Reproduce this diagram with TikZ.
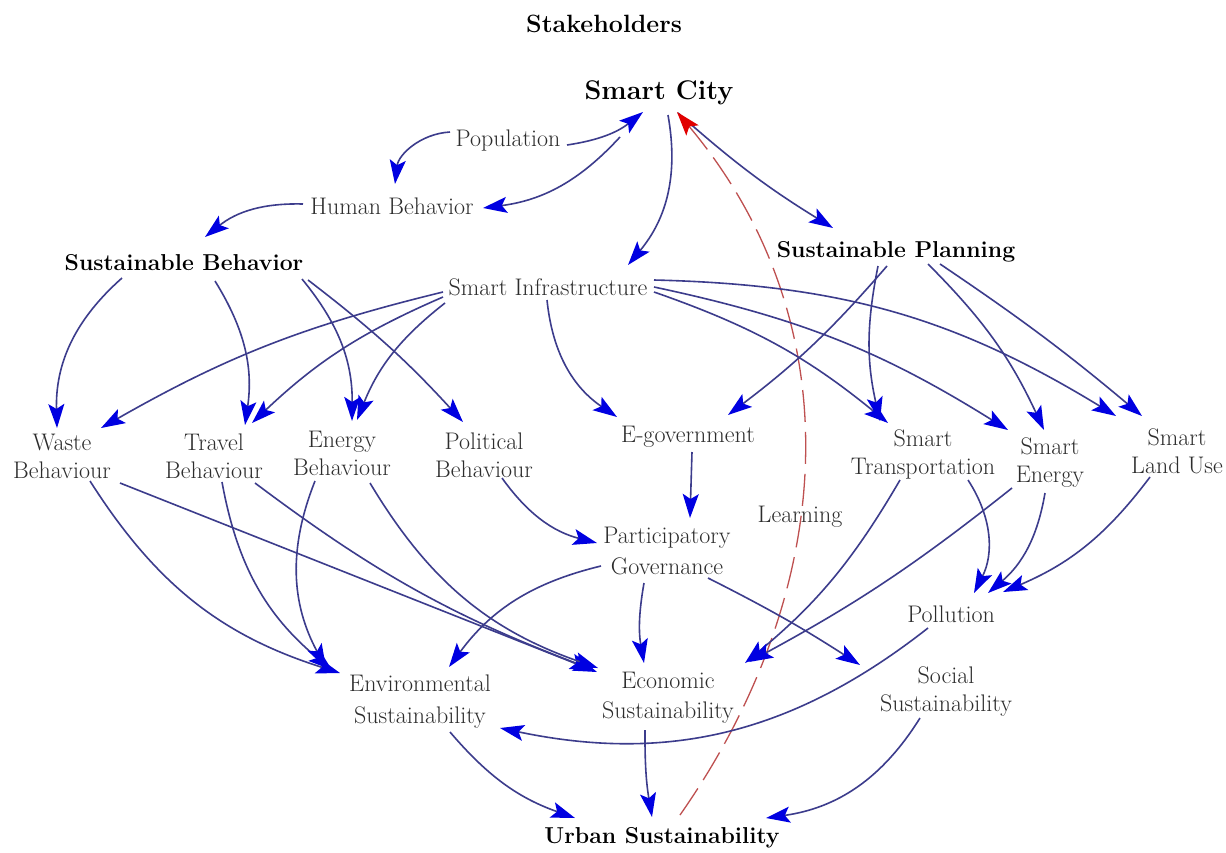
\documentclass[tikz,border=0pt]{standalone}
\usetikzlibrary{arrows.meta}
\definecolor{lineblue}{RGB}{60,60,140}
\definecolor{tipblue}{RGB}{0,0,225}
\definecolor{txtgray}{RGB}{45,45,45}
\definecolor{lrnred}{RGB}{190,80,80}
\definecolor{tipred}{RGB}{225,0,0}
\begin{document}
\begin{tikzpicture}[x=1pt,y=-1pt,
  lbl/.style={font=\fontsize{24}{28}\selectfont, text=txtgray, align=center, inner sep=0pt},
  blbl/.style={font=\fontsize{23}{28}\selectfont\bfseries, text=black, align=center, inner sep=0pt},
  edge/.style={draw=lineblue, line width=1.6pt, -{Stealth[length=24pt,width=16pt,inset=5pt,color=tipblue]}},
  learn/.style={draw=lrnred, line width=1.3pt, dash pattern=on 32pt off 10pt, -{Stealth[length=24pt,width=16pt,inset=5pt,color=tipred]}}
]
\useasboundingbox[fill=white] (0,0) rectangle (1226,852);

% nodes
\node[font=\fontsize{25}{28}\selectfont\bfseries] (title) at (604,24) {Stakeholders};
\node[blbl, font=\fontsize{27}{30}\selectfont\bfseries] (sc) at (659,93) {Smart City};
\node[lbl] (pop) at (508,141) {Population};
\node[lbl] (hb) at (392,206) {Human Behavior};
\node[blbl] (sb) at (184,263) {Sustainable Behavior};
\node[lbl] (si) at (548,287) {Smart Infrastructure};
\node[blbl] (sp) at (896,252) {Sustainable Planning};
\node[lbl] (wb) at (62,456) {Waste\\Behaviour};
\node[lbl] (tb) at (214,456) {Travel\\Behaviour};
\node[lbl] (eb) at (342,453) {Energy\\Behaviour};
\node[lbl] (pb) at (484,455) {Political\\Behaviour};
\node[lbl] (eg) at (688,437) {E-government};
\node[lbl] (st) at (923,454) {Smart\\Transportation};
\node[lbl] (se) at (1050,463) {Smart\\Energy};
\node[lbl] (slu) at (1177,451) {Smart\\Land Use};
\node[lbl] (lrn) at (800,517) {Learning};
\node[lbl, font=\fontsize{24}{31}\selectfont] (pg) at (667,551) {Participatory\\Governance};
\node[lbl] (pol) at (951,614) {Pollution};
\node[lbl, font=\fontsize{24}{32}\selectfont] (env) at (420,702) {Environmental\\Sustainability};
\node[lbl, font=\fontsize{24}{30}\selectfont] (eco) at (668,698) {Economic\\Sustainability};
\node[lbl] (soc) at (946,692) {Social\\Sustainability};
\node[blbl] (us) at (662,838) {Urban Sustainability};

% connectors
\draw[edge] ([shift={(59,4)}]pop.center) to[bend right=15] ([shift={(-16,19)}]sc.center);
\draw[edge] ([shift={(-58,-9)}]pop.center) to[bend right=40] ([shift={(3,-22)}]hb.center);
\draw[edge] ([shift={(-39,44)}]sc.center) to[bend left=20] ([shift={(91,2)}]hb.center);
\draw[edge] ([shift={(-89,-2)}]hb.center) to[bend right=20] ([shift={(21,-26)}]sb.center);
\draw[edge] ([shift={(9,22)}]sc.center) to[bend left=25] ([shift={(80,-22)}]si.center);
\draw[edge] ([shift={(19,20)}]sc.center) to[bend right=5] ([shift={(-63,-24)}]sp.center);
\draw[learn] ([shift={(18,-23)}]us.center) to[out=55,in=-50] ([shift={(18,19)}]sc.center);

\draw[edge] ([shift={(-62,15)}]sb.center) to[bend right=25] ([shift={(-5,-28)}]wb.center);
\draw[edge] ([shift={(31,18)}]sb.center) to[bend left=20] ([shift={(31,-31)}]tb.center);
\draw[edge] ([shift={(118,16)}]sb.center) to[bend left=20] ([shift={(10,-32)}]eb.center);
\draw[edge] ([shift={(124,17)}]sb.center) to[bend left=5] ([shift={(-21,-33)}]pb.center);

\draw[edge] ([shift={(-105,5)}]si.center) to[bend right=8] ([shift={(39,-28)}]wb.center);
\draw[edge] ([shift={(-105,10)}]si.center) to[bend right=10] ([shift={(38,-33)}]tb.center);
\draw[edge] ([shift={(-103,16)}]si.center) to[bend right=15] ([shift={(15,-33)}]eb.center);
\draw[edge] ([shift={(-1,13)}]si.center) to[bend right=25] ([shift={(-71,-20)}]eg.center);
\draw[edge] ([shift={(106,5)}]si.center) to[bend left=10] ([shift={(-35,-31)}]st.center);
\draw[edge] ([shift={(106,0)}]si.center) to[bend left=10] ([shift={(-42,-33)}]se.center);
\draw[edge] ([shift={(106,-7)}]si.center) to[bend left=15] ([shift={(-61,-35)}]slu.center);

\draw[edge] ([shift={(-9,14)}]sp.center) to[bend left=6] ([shift={(40,-22)}]eg.center);
\draw[edge] ([shift={(-18,14)}]sp.center) to[bend right=12] ([shift={(-43,-33)}]st.center);
\draw[edge] ([shift={(32,12)}]sp.center) to[bend left=10] ([shift={(-6,-33)}]se.center);
\draw[edge] ([shift={(44,12)}]sp.center) to[bend left=3] ([shift={(-35,-35)}]slu.center);

\draw[edge] ([shift={(4,15)}]eg.center) -- ([shift={(23,-33)}]pg.center);
\draw[edge] ([shift={(18,23)}]pb.center) to[bend right=20] ([shift={(-70,-8)}]pg.center);
\draw[edge] ([shift={(-66,15)}]pg.center) to[bend right=20] ([shift={(29,-35)}]env.center);
\draw[edge] ([shift={(-23,32)}]pg.center) to[bend right=10] ([shift={(-24,-35)}]eco.center);
\draw[edge] ([shift={(41,27)}]pg.center) to[bend left=3] ([shift={(-86,-27)}]soc.center);

\draw[edge] ([shift={(28,25)}]wb.center) to[bend right=20] ([shift={(-80,-29)}]env.center);
\draw[edge] ([shift={(8,26)}]tb.center) to[bend right=20] ([shift={(-88,-32)}]env.center);
\draw[edge] ([shift={(-27,28)}]eb.center) to[bend right=25] ([shift={(-94,-34)}]env.center);
\draw[edge] ([shift={(58,27)}]wb.center) -- ([shift={(-71,-26)}]eco.center);
\draw[edge] ([shift={(41,27)}]tb.center) to[bend right=8] ([shift={(-74,-28)}]eco.center);
\draw[edge] ([shift={(28,30)}]eb.center) to[bend right=20] ([shift={(-70,-30)}]eco.center);

\draw[edge] ([shift={(-23,26)}]st.center) to[bend left=10] ([shift={(77,-35)}]eco.center);
\draw[edge] ([shift={(-38,25)}]se.center) to[bend left=5] ([shift={(81,-36)}]eco.center);
\draw[edge] ([shift={(45,26)}]st.center) to[bend left=30] ([shift={(23,-21)}]pol.center);
\draw[edge] ([shift={(-5,30)}]se.center) to[bend left=20] ([shift={(37,-21)}]pol.center);
\draw[edge] ([shift={(-27,26)}]slu.center) to[bend left=15] ([shift={(52,-22)}]pol.center);

\draw[edge] ([shift={(-23,14)}]pol.center) to[bend left=25] ([shift={(80,26)}]env.center);
\draw[edge] ([shift={(-26,26)}]soc.center) to[bend left=25] ([shift={(104,-20)}]us.center);
\draw[edge] ([shift={(-23,32)}]eco.center) to[bend right=5] ([shift={(-10,-21)}]us.center);
\draw[edge] ([shift={(30,30)}]env.center) to[bend right=15] ([shift={(-87,-20)}]us.center);
\end{tikzpicture}
\end{document}
